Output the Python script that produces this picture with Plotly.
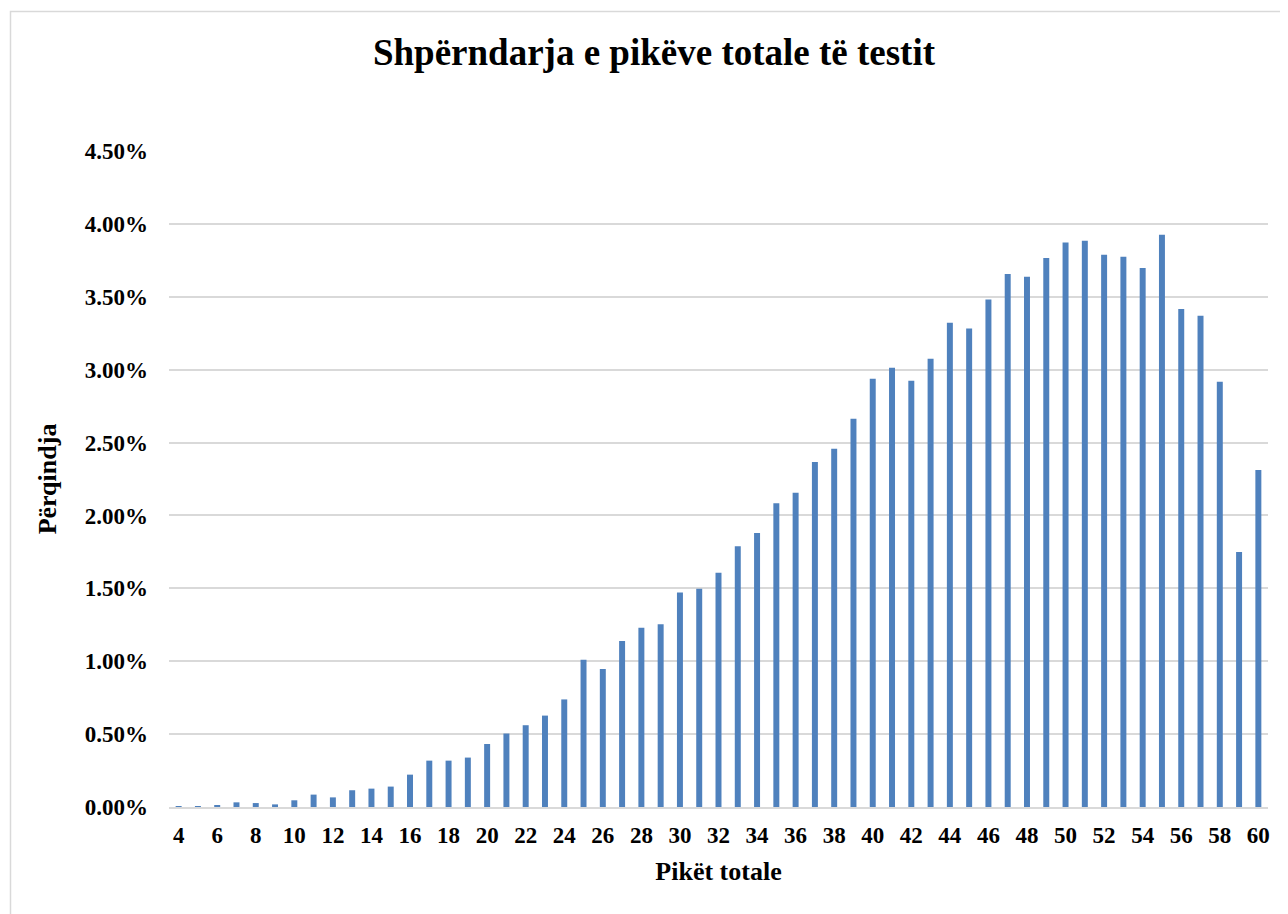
import plotly.graph_objects as go

scores = list(range(4, 61))
percent = [
    0.001, 0.002, 0.010, 0.032, 0.027, 0.018, 0.046, 0.085, 0.066, 0.115,
    0.126, 0.140, 0.222, 0.318, 0.318, 0.339, 0.432, 0.504, 0.561, 0.627,
    0.738, 1.010, 0.946, 1.138, 1.229, 1.253, 1.472, 1.497, 1.607, 1.788,
    1.880, 2.084, 2.155, 2.367, 2.457, 2.663, 2.937, 3.013, 2.924, 3.075,
    3.322, 3.283, 3.482, 3.657, 3.638, 3.766, 3.872, 3.885, 3.789, 3.775,
    3.698, 3.926, 3.416, 3.370, 2.917, 1.749, 2.312,
]
values = [p / 100 for p in percent]

title_text = "Shpërndarja e pikëve totale të testit"
x_title = "Pikët totale"
y_title = "Përqindja"

FONT = "Liberation Serif"

fig = go.Figure(
    go.Bar(
        x=scores,
        y=values,
        width=0.31,
        marker=dict(color="#4f81bd", line=dict(width=0)),
    )
)

# page has an 8px body margin; figure coords = page coords - 8
OFF = 8
W, H = 1288 - OFF, 914 - OFF
L = 169 - OFF
T = 151 - OFF
R = W - (1268 - OFF)
B = H - (807 - OFF)
pw = W - L - R
ph = H - T - B

def px_x(p):
    return (p - OFF - L) / pw

def px_y(p):
    return (H - B - (p - OFF)) / ph

fig.update_layout(
    width=W,
    height=H,
    margin=dict(l=L, r=R, t=T, b=B),
    paper_bgcolor="white",
    plot_bgcolor="white",
    showlegend=False,
    font=dict(family=FONT, color="black"),
    title=dict(
        text=f"<b>{title_text}</b>",
        x=(654 - OFF) / W,
        xanchor="center",
        y=1 - (52 - OFF) / H,
        yanchor="middle",
        font=dict(family=FONT, size=37, color="black"),
    ),
    xaxis=dict(
        range=[3.5, 60.5],
        tickmode="array",
        tickvals=list(range(4, 61, 2)),
        ticktext=[f"<b>{v}</b>" for v in range(4, 61, 2)],
        tickfont=dict(family=FONT, size=23, color="black"),
        showgrid=False,
        showline=True,
        linecolor="#d9d9d9",
        linewidth=2,
        ticks="",
        ticklabelstandoff=6,
        title=dict(
            text=f"<b>{x_title}</b>",
            font=dict(family=FONT, size=26, color="black"),
            standoff=15,
        ),
        zeroline=False,
    ),
    yaxis=dict(
        range=[0, 0.045],
        dtick=0.005,
        tick0=0,
        tickformat=".2%",
        tickfont=dict(family=FONT, size=23, color="black", weight="bold"),
        showgrid=True,
        gridcolor="#d9d9d9",
        gridwidth=1.5,
        zeroline=False,
        showline=False,
        ticks="",
        ticklabelstandoff=20,
        title=dict(
            text=f"<b>{y_title}</b>",
            font=dict(family=FONT, size=26, color="black"),
            standoff=20,
        ),
    ),
    shapes=[
        dict(
            type="rect",
            xref="paper",
            yref="paper",
            x0=px_x(10.5),
            x1=px_x(1330),
            y0=px_y(960),
            y1=px_y(11.5),
            line=dict(color="#d9d9d9", width=1.5),
            fillcolor="rgba(0,0,0,0)",
            layer="below",
        )
    ],
)

fig.write_html("out.html")
